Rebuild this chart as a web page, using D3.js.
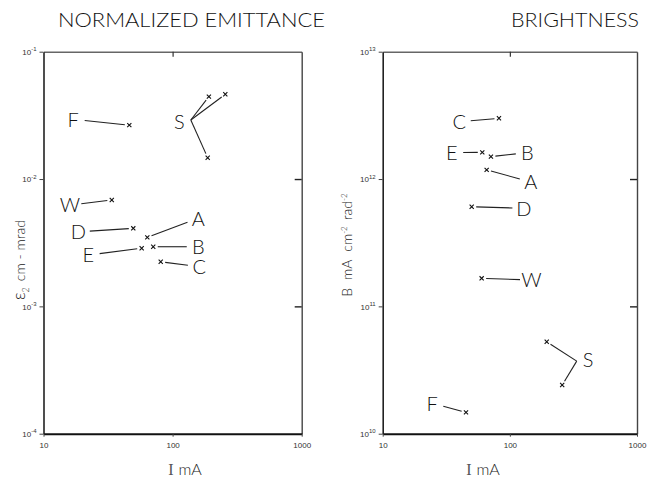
<!DOCTYPE html>
<html>
<head>
<meta charset="utf-8">
<script src="https://cdn.jsdelivr.net/npm/d3@7"></script>
<style>
body{margin:0;background:#fff;}
svg{display:block;font-family:"Liberation Sans","DejaVu Sans",sans-serif;}
</style>
</head>
<body>
<div id="chart"></div>
<script>
// current axis, shared by both panels (mA)
var currentDomain = [10, 1000];
var currentTicks = [10, 100, 1000];

// normalized emittance panel (cm-mrad) - one x per measured source
var emitGroup = ["F", "S", "S", "S", "W", "D", "A", "E", "B", "C"];
var emitI = [46.2, 191, 256, 187, 33.8, 49.6, 63.7, 57.6, 70.8, 80.9];
var emitE = [0.0265, 0.0444, 0.0463, 0.0147, 0.00684, 0.0041, 0.00348, 0.00286, 0.00294, 0.00224];
// where the letters sit, in data units
var emitLabels = ["F", "S", "W", "D", "A", "E", "B", "C"];
var emitLabelI = [17.0, 113, 16.0, 18.6, 158, 22.2, 158, 161];
var emitLabelE = [0.0294, 0.0282, 0.00625, 0.00385, 0.00491, 0.00253, 0.00294, 0.00205];
var emitTicks = [1e-4, 1e-3, 1e-2, 1e-1];

// brightness panel (mA cm^-2 rad^-2)
var brightGroup = ["C", "E", "B", "A", "D", "W", "S", "S", "F"];
var brightI = [82.1, 60.7, 71.0, 65.7, 50.1, 60.0, 195, 258, 45.2];
var brightB = [3.0e12, 1.62e12, 1.50e12, 1.18e12, 6.06e11, 1.66e11, 5.27e10, 2.41e10, 1.47e10];
var brightLabels = ["C", "E", "B", "A", "D", "W", "S", "F"];
var brightLabelI = [40.0, 34.9, 137, 146.5, 129, 148, 413, 24.5];
var brightLabelB = [2.82e12, 1.61e12, 1.61e12, 9.5e11, 5.89e11, 1.61e11, 3.79e10, 1.73e10];
var brightTicks = [1e10, 1e11, 1e12, 1e13];

var svgWidth = 652;
var svgHeight = 484;
var plotTop = 51.7;
var plotBottom = 433.7;

var svg = d3.select("#chart")
  .append("svg")
    .attr("width", svgWidth)
    .attr("height", svgHeight);

function drawPanel(p){
  var x = d3.scaleLog().domain(currentDomain).range([p.left, p.right]);
  var y = d3.scaleLog()
    .domain([p.yTicks[0], p.yTicks[p.yTicks.length - 1]])
    .range([plotBottom, plotTop]);
  var g = svg.append("g");

  // top and right frame, lighter like the scan
  g.append("g")
    .attr("transform", "translate(0," + plotTop + ")")
    .call(d3.axisTop(x).tickValues([100]).tickSize(-5).tickSizeOuter(0).tickFormat(""))
    .call(s => s.select(".domain").attr("stroke", "#666").attr("stroke-width", 1.4))
    .call(s => s.selectAll(".tick line").attr("stroke", "#333").attr("stroke-width", 1.2));
  g.append("g")
    .attr("transform", "translate(" + p.right + ",0)")
    .call(d3.axisRight(y).tickValues(p.yTicks.slice(1, 3)).tickSize(-7).tickSizeOuter(0).tickFormat(""))
    .call(s => s.select(".domain").attr("stroke", "#444").attr("stroke-width", 1.4))
    .call(s => s.selectAll(".tick line").attr("stroke", "#222").attr("stroke-width", 1.4));

  // left axis with 10^n labels
  var yAxis = g.append("g")
    .attr("transform", "translate(" + p.left + ",0)")
    .call(d3.axisLeft(y).tickValues(p.yTicks).tickSize(4).tickSizeOuter(0).tickFormat(""));
  yAxis.select(".domain").attr("stroke", "#222").attr("stroke-width", 1.6);
  yAxis.selectAll(".tick line").attr("stroke", "#444");
  var yLab = yAxis.selectAll(".tick").append("text")
    .attr("x", -7)
    .attr("dy", "0.35em")
    .attr("fill", "#333")
    .attr("text-anchor", "end")
    .style("font-size", "8px");
  yLab.append("tspan").text("10");
  yLab.append("tspan")
    .attr("dy", "-0.6em")
    .style("font-size", "6px")
    .text(d => String(Math.round(Math.log10(d))));

  // bottom axis
  var xAxis = g.append("g")
    .attr("transform", "translate(0," + plotBottom + ")")
    .call(d3.axisBottom(x).tickValues(currentTicks).tickSize(3).tickSizeOuter(0).tickFormat(d3.format("d")));
  xAxis.select(".domain").attr("stroke", "#111").attr("stroke-width", 2);
  xAxis.selectAll(".tick line").attr("stroke", "#444");
  xAxis.selectAll(".tick text")
    .attr("y", 9)
    .attr("fill", "#333")
    .style("font-size", "8px")
    .style("font-family", "inherit");

  // leader lines from each letter to its points
  var leaders = [];
  p.labels.forEach(function(name, i){
    var lx = x(p.labelI[i]), ly = y(p.labelV[i]);
    var idx = d3.range(p.group.length).filter(k => p.group[k] == name);
    var mx = d3.mean(idx, k => x(p.I[k]));
    var my = d3.mean(idx, k => y(p.V[k]));
    var a = Math.atan2(my - ly, mx - lx);
    var sx = lx + Math.cos(a) * 11.5, sy = ly + Math.sin(a) * 11;
    idx.forEach(function(k){
      var px = x(p.I[k]), py = y(p.V[k]);
      var b = Math.atan2(py - sy, px - sx);
      leaders.push({x1: sx, y1: sy, x2: px - Math.cos(b) * 4.5, y2: py - Math.sin(b) * 4.5});
    });
  });
  g.append("g").selectAll("line")
    .data(leaders)
    .enter()
    .append("line")
      .attr("x1", d => d.x1).attr("y1", d => d.y1)
      .attr("x2", d => d.x2).attr("y2", d => d.y2)
      .attr("stroke", "#222")
      .attr("stroke-width", 1.1);

  // x markers
  g.append("g").selectAll("path")
    .data(d3.range(p.group.length))
    .enter()
    .append("path")
      .attr("transform", k => "translate(" + x(p.I[k]) + "," + y(p.V[k]) + ")")
      .attr("d", d3.symbol(d3.symbolTimes).size(13))
      .attr("stroke", "#111")
      .attr("stroke-width", 1.1)
      .attr("fill", "none");

  // letters
  g.append("g").selectAll("text")
    .data(p.labels)
    .enter()
    .append("text")
      .attr("x", (d, i) => x(p.labelI[i]))
      .attr("y", (d, i) => y(p.labelV[i]))
      .attr("dy", "0.36em")
      .attr("text-anchor", "middle")
      .attr("fill", "#111")
      .style("font-family", "Lato, 'Liberation Sans', sans-serif")
      .style("font-weight", 300)
      .style("font-size", "20px")
      .text(d => d);

  // title
  g.append("text")
    .attr("x", p.titleX)
    .attr("y", 26.7)
    .attr("textLength", p.titleW)
    .attr("lengthAdjust", "spacingAndGlyphs")
    .attr("fill", "#111")
    .style("font-family", "Lato, 'Liberation Sans', sans-serif")
    .style("font-weight", 300)
    .style("font-size", "20px")
    .text(p.title);

  // I mA
  var xl = g.append("text")
    .attr("x", p.xLabelX)
    .attr("y", 475)
    .attr("text-anchor", "middle")
    .attr("fill", "#222")
    .style("font-size", "16px")
    .style("font-family", "Lato, 'Liberation Sans', sans-serif")
    .style("font-weight", 300);
  xl.append("tspan").attr("fill", "#555").style("font-family", "'Liberation Serif', serif").text("I");
  xl.append("tspan").attr("dx", 5).text("mA");

  return g;
}

var left = drawPanel({
  left: 43.5, right: 301.7,
  yTicks: emitTicks,
  group: emitGroup, I: emitI, V: emitE,
  labels: emitLabels, labelI: emitLabelI, labelV: emitLabelE,
  title: "NORMALIZED EMITTANCE", titleX: 58, titleW: 267,
  xLabelX: 185
});

var right = drawPanel({
  left: 382.7, right: 637,
  yTicks: brightTicks,
  group: brightGroup, I: brightI, V: brightB,
  labels: brightLabels, labelI: brightLabelI, labelV: brightLabelB,
  title: "BRIGHTNESS", titleX: 511, titleW: 128,
  xLabelX: 483
});

// rotated y labels
var ly1 = left.append("text")
  .attr("transform", "translate(25,260) rotate(-90)")
  .attr("text-anchor", "middle")
  .attr("fill", "#222")
  .style("font-size", "14px")
  .style("font-family", "Lato, 'Liberation Sans', sans-serif")
  .style("font-weight", 300);
ly1.append("tspan").style("font-size", "17px").text("\u03b5");
ly1.append("tspan").attr("dy", 4).style("font-size", "9px").text("2");
ly1.append("tspan").attr("dy", -4).attr("dx", 6).text("cm - mrad");

var ly2 = right.append("text")
  .attr("transform", "translate(352,245) rotate(-90)")
  .attr("text-anchor", "middle")
  .attr("fill", "#222")
  .style("font-size", "14px")
  .style("font-family", "Lato, 'Liberation Sans', sans-serif")
  .style("font-weight", 300);
ly2.append("tspan").text("B");
ly2.append("tspan").attr("dx", 8).text("mA");
ly2.append("tspan").attr("dx", 8).text("cm");
ly2.append("tspan").attr("dy", -5).style("font-size", "8px").text("-2");
ly2.append("tspan").attr("dy", 5).attr("dx", 6).text("rad");
ly2.append("tspan").attr("dy", -5).style("font-size", "8px").text("-2");
</script>
</body>
</html>
